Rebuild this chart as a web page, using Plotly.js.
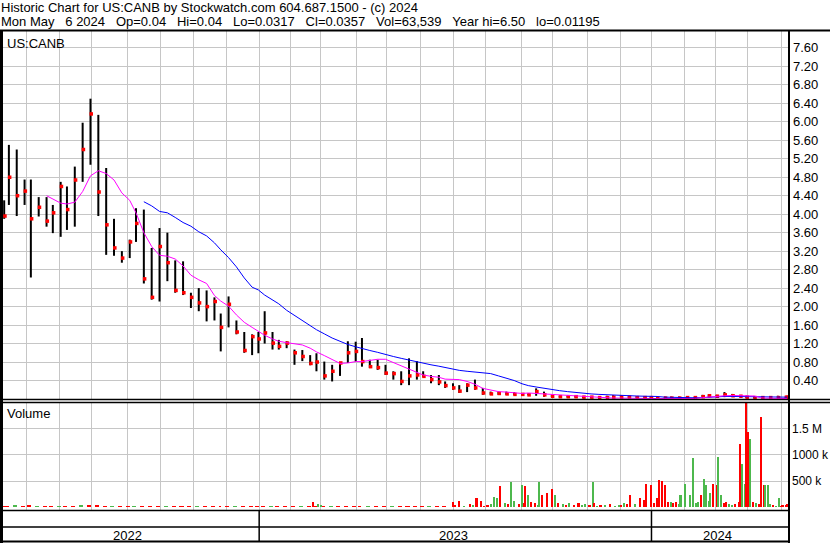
<!DOCTYPE html>
<html><head><meta charset="utf-8">
<script src="https://cdn.plot.ly/plotly-3.0.1.min.js"></script>
<style>html,body{margin:0;padding:0;background:#fff}#chart{width:830px;height:543px}</style>
</head><body><div id="chart"></div>
<script>
// ---------- DATA (weekly OHLC) ----------
const weekDates = ["2022-05-10","2022-05-13","2022-05-20","2022-05-27","2022-06-03","2022-06-10","2022-06-17","2022-06-24","2022-07-01","2022-07-08",
"2022-07-15","2022-07-22","2022-07-29","2022-08-05","2022-08-12","2022-08-19","2022-08-26","2022-09-02","2022-09-09","2022-09-16",
"2022-09-23","2022-09-30","2022-10-07","2022-10-14","2022-10-21","2022-10-28","2022-11-04","2022-11-11","2022-11-18","2022-11-25",
"2022-12-02","2022-12-09","2022-12-16","2022-12-23","2022-12-30","2023-01-06","2023-01-13","2023-01-20","2023-01-27","2023-02-03",
"2023-02-10","2023-02-17","2023-02-24","2023-03-03","2023-03-10","2023-03-17","2023-03-24","2023-03-31","2023-04-06","2023-04-14",
"2023-04-21","2023-04-28","2023-05-05","2023-05-12","2023-05-19","2023-05-26","2023-06-02","2023-06-09","2023-06-16","2023-06-23",
"2023-06-30","2023-07-07","2023-07-14","2023-07-21","2023-07-28","2023-08-04","2023-08-11","2023-08-18","2023-08-25","2023-09-01",
"2023-09-08","2023-09-15","2023-09-22","2023-09-29","2023-10-06","2023-10-13","2023-10-20","2023-10-27","2023-11-03","2023-11-10",
"2023-11-17","2023-11-24","2023-12-01","2023-12-08","2023-12-15","2023-12-22","2023-12-29","2024-01-05","2024-01-12","2024-01-19",
"2024-01-26","2024-02-02","2024-02-09","2024-02-16","2024-02-23","2024-03-01","2024-03-08","2024-03-15","2024-03-22","2024-03-28",
"2024-04-05","2024-04-12","2024-04-19","2024-04-26","2024-05-03","2024-05-06"];

const openP = [4.00,4.30,4.80,4.30,4.60,3.95,4.15,3.85,4.00,4.55, 4.10,4.75,5.50,6.10,4.50,3.80,3.20,3.10,3.45,3.80,
2.60,2.60,3.30,2.95,2.40,2.30,2.20,2.10,2.00,1.85, 1.60,1.70,1.45,1.05,1.30,1.30,1.43,1.20,1.14,1.07,
1.00,0.92,0.80,0.80,0.50,0.60,0.80,1.00,1.03,0.81, 0.70,0.68,0.50,0.55,0.37,0.50,0.52,0.49,0.42,0.37,
0.29,0.24,0.17,0.30,0.24,0.13,0.11,0.12,0.11,0.10, 0.10,0.09,0.16,0.09,0.06,0.05,0.05,0.05,0.04,0.04,
0.03,0.03,0.04,0.04,0.04,0.03,0.03,0.03,0.02,0.02, 0.02,0.02,0.03,0.03,0.05,0.07,0.06,0.09,0.07,0.06,
0.04,0.03,0.03,0.03,0.03,0.04];

const highP = [4.30,5.50,5.40,4.75,4.75,4.37,4.37,4.20,4.70,4.60, 5.03,5.98,6.50,6.15,5.00,3.90,3.20,3.45,4.13,4.10,
3.27,3.70,3.60,3.00,2.98,2.30,2.40,2.35,2.20,1.85, 2.22,1.70,1.45,1.40,1.45,1.90,1.45,1.28,1.25,1.07,
1.06,0.95,0.99,0.81,0.74,0.78,1.25,1.24,1.32,0.85, 0.85,0.74,0.60,0.60,0.88,0.82,0.60,0.52,0.52,0.38,
0.34,0.30,0.34,0.42,0.24,0.16,0.16,0.16,0.15,0.13, 0.12,0.23,0.16,0.09,0.07,0.07,0.08,0.06,0.06,0.06,
0.07,0.08,0.08,0.06,0.06,0.06,0.06,0.05,0.05,0.05, 0.05,0.05,0.05,0.09,0.10,0.09,0.15,0.11,0.08,0.07,
0.06,0.05,0.05,0.07,0.05,0.04];

const lowP = [3.90,4.20,3.96,4.20,2.63,3.95,3.73,3.59,3.51,3.66, 3.73,4.70,5.07,3.96,3.12,3.10,2.95,3.05,3.40,2.50,
2.15,2.11,2.55,2.30,2.25,1.97,1.90,1.68,1.70,1.03, 1.55,1.40,1.00,0.95,0.99,1.20,1.07,1.07,1.10,0.74,
0.82,0.73,0.60,0.42,0.38,0.50,0.78,0.81,0.70,0.67, 0.63,0.52,0.42,0.30,0.30,0.42,0.48,0.34,0.30,0.24,
0.20,0.13,0.15,0.20,0.09,0.09,0.09,0.09,0.09,0.08, 0.08,0.07,0.05,0.04,0.03,0.03,0.03,0.02,0.02,0.02,
0.02,0.03,0.03,0.02,0.02,0.02,0.02,0.01,0.012,0.012, 0.015,0.015,0.015,0.03,0.03,0.04,0.04,0.05,0.05,0.02,
0.012,0.015,0.015,0.02,0.03,0.0317];

const closeP = [3.96,4.80,4.40,4.50,3.90,4.15,3.85,4.03,4.60,4.10, 4.74,5.40,6.17,4.48,3.77,3.27,3.05,3.40,3.80,2.60,
2.20,3.30,2.95,2.35,2.30,2.20,2.08,2.00,2.11,1.55, 2.05,1.45,1.05,1.35,1.30,1.43,1.21,1.14,1.21,1.00,
0.92,0.77,0.80,0.50,0.60,0.78,1.00,1.03,0.81,0.70, 0.68,0.56,0.55,0.38,0.50,0.52,0.49,0.42,0.37,0.29,
0.24,0.17,0.30,0.24,0.13,0.11,0.12,0.11,0.10,0.10, 0.09,0.16,0.09,0.06,0.05,0.05,0.05,0.04,0.04,0.03,
0.03,0.04,0.04,0.04,0.03,0.03,0.03,0.02,0.02,0.02, 0.02,0.03,0.03,0.05,0.07,0.06,0.09,0.07,0.06,0.04,
0.03,0.03,0.03,0.03,0.04,0.0357];

// short moving average (magenta) and long moving average (blue)
const maShort = [null,null,null,null,null,null,
4.40,4.33,4.24,4.22,4.26, 4.49,4.83,4.94,4.88,4.74, 4.46,4.30,4.03,3.60,3.30, 3.11,3.09,3.03,2.88,2.68,
2.58,2.50,2.24,2.12,2.01, 1.82,1.66,1.55,1.46,1.38, 1.30,1.25,1.22,1.20,1.17, 1.10,1.02,0.94,0.85,0.77,
0.78,0.81,0.81,0.83,0.86, 0.86,0.79,0.72,0.65,0.58, 0.52,0.49,0.47,0.43,0.42, 0.42,0.38,0.32,0.23,0.19,
0.16,0.15,0.13,0.12,0.13, 0.12,0.10,0.09,0.08,0.075, 0.07,0.055,0.04,0.03,0.025, 0.02,0.02,0.015,0.015,0.01,
0.01,0.01,0.01,0.01,0.01, 0.01,0.01,0.03,0.045,0.055, 0.07,0.076,0.075,0.07,0.065, 0.02,0.015,0.01,0.01, 0.01];

const maLong = [null,null,null,null,null,null,null,null,null,null,null,null,null,null,null,null,null,null,null,
4.27,4.18,4.06,4.03,3.93,3.82,3.74, 3.62,3.53,3.38,3.23,3.06, 2.86,2.62,2.42,2.36,2.25, 2.15,2.06,1.92,1.81,1.71,
1.60,1.50,1.41,1.32,1.25, 1.18,1.13,1.09,1.05,1.01, 0.96,0.92,0.88,0.84,0.81, 0.78,0.74,0.71,0.68,0.65,
0.62,0.60,0.58,0.57,0.55, 0.50,0.45,0.40,0.33,0.29, 0.26,0.23,0.21,0.18,0.16, 0.14,0.12,0.11,0.10,0.09,
0.085,0.075,0.07,0.065,0.06, 0.06,0.055,0.04,0.035,0.03, 0.03,0.026,0.03,0.04,0.05, 0.055,0.055,0.055,0.055,0.055,
0.045,0.04,0.04,0.04, 0.04];

// quiet-period volume strip (one value per week, up to late June 2023)
const baseVolume = [30000,25000,38000,28000,40000,22000,30000,24000,35000,26000,30000,36000,45000,40000,30000,26000,22000,25000,28000,32000,
24000,28000,20000,26000,30000,22000,25000,28000,24000,26000,34000,22000,28000,20000,24000,26000,30000,22000,25000,20000,
24000,26000,28000,22000,24000,25000,30000,26000,22000,28000,24000,20000,26000,30000,24000,22000,28000,25000,26000,24000];
const baseUp = [0,0,1,0,0,1,0,0,1,0,0,1,0,0,0,1,0,0,1,0, 0,0,1,0,0,0,1,0,0,0,0,1,0,0,0,0,1,0,0,0, 1,0,0,0,1,0,0,0,0,1,0,0,1,0,0,0,0,1,0,0];

// individual sessions with visible volume
const spikeDates = ["2023-02-22","2023-02-27","2023-03-01","2023-06-30","2023-07-07","2023-07-12","2023-07-18","2023-07-24","2023-07-27","2023-08-02",
"2023-08-08","2023-08-10","2023-08-14","2023-08-17","2023-08-23","2023-08-25","2023-08-30","2023-09-01","2023-09-06","2023-09-08",
"2023-09-12","2023-09-14","2023-09-19","2023-09-21","2023-09-26","2023-09-29","2023-10-03","2023-10-05","2023-10-10","2023-10-16",
"2023-10-19","2023-10-24","2023-10-30","2023-11-06","2023-11-07","2023-11-13","2023-11-16","2023-11-21","2023-11-27","2023-11-30",
"2023-12-05","2023-12-11","2023-12-14","2023-12-19","2023-12-22","2023-12-26","2023-12-29","2024-01-05","2024-01-08","2024-01-10",
"2024-01-12","2024-01-17","2024-01-19","2024-01-22","2024-01-24","2024-01-29","2024-02-01","2024-02-06","2024-02-08","2024-02-13",
"2024-02-15","2024-02-20","2024-02-21","2024-02-26","2024-02-28","2024-03-01","2024-03-04","2024-03-06","2024-03-11","2024-03-13",
"2024-03-15","2024-03-19","2024-03-21","2024-03-22","2024-03-25","2024-03-27","2024-03-28","2024-04-01","2024-04-02","2024-04-04",
"2024-04-08","2024-04-11","2024-04-15","2024-04-16","2024-04-18","2024-04-23","2024-04-25","2024-04-29","2024-05-01","2024-05-03",
"2024-05-06",
"2023-07-03","2023-07-20","2023-07-31","2023-08-04","2023-08-21","2023-09-05","2023-09-18","2023-10-12","2023-10-26","2023-11-02",
"2023-11-09","2023-12-01","2023-12-07","2024-01-03","2024-01-26","2024-02-12","2024-02-23","2024-03-08","2024-04-10","2024-04-19",
"2024-04-30"];
const spikeVolume = [95000,70000,55000,95000,120000,30000,60000,185000,120000,50000,
200000,170000,410000,90000,490000,120000,60000,420000,410000,240000,
100000,80000,475000,240000,270000,360000,240000,90000,60000,80000,
40000,80000,70000,475000,80000,50000,40000,60000,30000,45000,
80000,230000,70000,170000,140000,455000,420000,170000,520000,500000,
425000,110000,110000,80000,110000,230000,455000,230000,945000,110000,
230000,540000,420000,265000,455000,420000,960000,230000,110000,70000,
45000,60000,110000,1200000,835000,455000,2050000,1440000,1310000,100000,
90000,1720000,430000,420000,420000,50000,30000,170000,40000,45000,
63539,
40000,45000,35000,60000,70000,90000,50000,45000,40000,55000,
35000,40000,60000,90000,60000,90000,120000,80000,60000,70000,
35000];
const spikeUp = [0,1,1,0,0,1,0,0,0,0, 1,1,0,1,1,1,0,1,0,1, 0,0,1,0,0,0,1,0,1,1, 0,0,1,1,0,0,1,0,1,1,
1,0,1,0,0,0,0,0,0,0, 0,0,1,0,0,1,1,1,1,1, 0,1,1,1,0,0,1,1,0,1, 1,0,0,0,1,1,0,0,1,0, 1,0,0,1,1,0,1,1,0,0, 0,
0,1,0,1,0,0,1,0,1,0, 1,0,0,0,1,1,1,0,0,1, 0];

const priceTicks = [0.4,0.8,1.2,1.6,2.0,2.4,2.8,3.2,3.6,4.0,4.4,4.8,5.2,5.6,6.0,6.4,6.8,7.2,7.6];
const volTicks = [500000,1000000,1500000];
const volTickText = ["500 k","1000 k","1.5 M"];
const holidays = ["2022-05-30","2022-06-20","2022-07-04","2022-09-05","2022-11-24","2022-12-26","2023-01-02","2023-01-16","2023-02-20",
"2023-04-07","2023-05-29","2023-06-19","2023-07-04","2023-09-04","2023-11-23","2023-12-25","2024-01-01","2024-01-15","2024-02-19","2024-03-29"];

// ---------- LAYOUT HELPERS ----------
const FONT = 'Liberation Sans, Arial, sans-serif';
const FS = 13;
const PL = 3, PR = 788, PT = 31, PB = 510;
const X = p => (p - PL) / (PR - PL);
const Y = p => (PB - p) / (PB - PT);

function firstTradingDay(y, m) {
  const d = new Date(Date.UTC(y, m, 1));
  for (;;) {
    const wd = d.getUTCDay(), s = d.toISOString().slice(0, 10);
    if (wd !== 0 && wd !== 6 && holidays.indexOf(s) < 0) return s;
    d.setUTCDate(d.getUTCDate() + 1);
  }
}
const monthTicks = [];
for (let y = 2022, m = 5; y < 2024 || (y === 2024 && m <= 4); ) {
  monthTicks.push(firstTradingDay(y, m));
  m++; if (m > 11) { m = 0; y++; }
}
const year2023 = firstTradingDay(2023, 0), year2024 = firstTradingDay(2024, 0);

const DAY = 86400000;
const xRange = ['2022-05-09 18:00', '2024-05-07'];
const breaks = [{bounds: ['sat', 'mon']}, {values: holidays, dvalue: DAY}];

const upC = '#4db84d', downC = '#ff0000';

const traces = [
  {type: 'bar', x: weekDates.slice(0, baseVolume.length), y: baseVolume, xaxis: 'x2', yaxis: 'y2',
   marker: {color: baseUp.map(u => u ? upC : downC), line: {width: 0}}, width: 4.6 * DAY,
   xperiod: DAY, xperiodalignment: 'middle', hoverinfo: 'skip'},
  {type: 'bar', x: spikeDates, y: spikeVolume, xaxis: 'x2', yaxis: 'y2',
   marker: {color: spikeUp.map(u => u ? upC : downC), line: {width: 0}}, width: 1.3 * DAY,
   xperiod: DAY, xperiodalignment: 'middle', hoverinfo: 'skip'},
  {type: 'ohlc', x: weekDates, open: openP, high: highP, low: lowP, close: closeP,
   xaxis: 'x', yaxis: 'y', tickwidth: 0, line: {width: 2},
   increasing: {line: {color: '#000000', width: 2}}, decreasing: {line: {color: '#000000', width: 2}},
   xperiod: DAY, xperiodalignment: 'middle', hoverinfo: 'skip'},
  {type: 'scatter', mode: 'markers', x: weekDates, y: closeP, xaxis: 'x', yaxis: 'y',
   marker: {symbol: 'square', size: 3.5, color: '#ff0000', line: {width: 0}},
   xperiod: DAY, xperiodalignment: 'end', hoverinfo: 'skip'},
  {type: 'scatter', mode: 'lines', x: weekDates, y: maLong, xaxis: 'x', yaxis: 'y',
   line: {color: '#0000ff', width: 1}, xperiod: DAY, xperiodalignment: 'middle', hoverinfo: 'skip'},
  {type: 'scatter', mode: 'lines', x: weekDates, y: maShort, xaxis: 'x', yaxis: 'y',
   line: {color: '#ff00ff', width: 1}, xperiod: DAY, xperiodalignment: 'middle', hoverinfo: 'skip'}
];

const gridC = '#c6c6c6';
const xCommon = {type: 'date', range: xRange, rangebreaks: breaks, tickmode: 'array', tickvals: monthTicks,
  showticklabels: false, ticks: '', showgrid: true, gridcolor: gridC, gridwidth: 1, zeroline: false, showline: false, fixedrange: true};

const black = {color: '#000000', width: 1.5};
const hline = (py, x0, x1, w) => ({type: 'line', xref: 'paper', yref: 'paper', x0: X(x0), x1: X(x1), y0: Y(py), y1: Y(py), line: {color: '#000', width: w || 1.5}});
const shapes = [
  {type: 'rect', xref: 'paper', yref: 'paper', x0: X(0), x1: X(3), y0: Y(543), y1: Y(30), fillcolor: '#000', line: {width: 0}},
  hline(30.5, 0, 830, 2),
  hline(399.5, 0, 830, 1.3),
  hline(402.5, 0, 830, 1.3),
  hline(510.5, 0, 789, 1.5),
  hline(527, 0, 789, 1.5),
  hline(541.5, 0, 789, 2),
  {type: 'line', xref: 'paper', yref: 'paper', x0: X(789), x1: X(789), y0: Y(543), y1: Y(30), line: {color: '#000', width: 2}},
  {type: 'line', xref: 'x', yref: 'paper', x0: year2023, x1: year2023, y0: Y(542), y1: Y(510), line: black},
  {type: 'line', xref: 'x', yref: 'paper', x0: year2024, x1: year2024, y0: Y(542), y1: Y(510), line: black}
];

const nb = s => s.replace(/ /g, '\u00a0');
const txt = (s, px, py, extra) => Object.assign({xref: 'paper', yref: 'paper', x: X(px), y: Y(py), xanchor: 'left', yanchor: 'middle',
  text: nb(s), showarrow: false, font: {family: FONT, size: FS, color: '#000'}, borderpad: 0}, extra || {});
const yearLbl = (s, d) => ({xref: 'x', yref: 'paper', x: d, y: Y(535), text: s, showarrow: false, xanchor: 'center', yanchor: 'middle',
  font: {family: FONT, size: FS, color: '#000'}});
const annotations = [
  txt('Historic Chart for US:CANB by Stockwatch.com 604.687.1500 - (c) 2024', 0, 8),
  txt('Mon May   6 2024   Op=0.04   Hi=0.04   Lo=0.0317   Cl=0.0357   Vol=63,539   Year hi=6.50   lo=0.01195', 0, 22),
  txt('US:CANB', 6, 43),
  txt('Volume', 6, 413),
  yearLbl('2022', '2022-09-01'),
  yearLbl('2023', '2023-07-03'),
  yearLbl('2024', '2024-03-04')
];

const layout = {
  width: 830, height: 543,
  margin: {l: PL, r: 830 - PR, t: PT, b: 543 - PB, pad: 0},
  paper_bgcolor: '#ffffff', plot_bgcolor: '#ffffff',
  showlegend: false, barmode: 'overlay', bargap: 0,
  font: {family: FONT, size: FS, color: '#000'},
  xaxis: Object.assign({anchor: 'y', domain: [0, 1], rangeslider: {visible: false}}, xCommon),
  xaxis2: Object.assign({anchor: 'y2', domain: [0, 1], matches: 'x'}, xCommon),
  yaxis: {anchor: 'x', domain: [Y(399), 1], range: [0, 7.965], side: 'right', tickmode: 'array', tickvals: priceTicks,
    ticktext: priceTicks.map(v => v.toFixed(2)), ticks: '', ticklabelstandoff: 4, showgrid: true, gridcolor: gridC, gridwidth: 1,
    zeroline: false, showline: false, tickfont: {family: FONT, size: FS, color: '#000'}, fixedrange: true},
  yaxis2: {anchor: 'x2', domain: [0, Y(402)], range: [-50000, 2010000], side: 'right', tickmode: 'array', tickvals: volTicks,
    ticktext: volTickText, ticks: '', ticklabelstandoff: 3, showgrid: true, gridcolor: gridC, gridwidth: 1,
    zeroline: false, showline: false, tickfont: {family: FONT, size: 12, color: '#000'}, fixedrange: true},
  shapes: shapes,
  annotations: annotations
};

Plotly.newPlot('chart', traces, layout, {staticPlot: true, displayModeBar: false});
</script>
</body></html>
